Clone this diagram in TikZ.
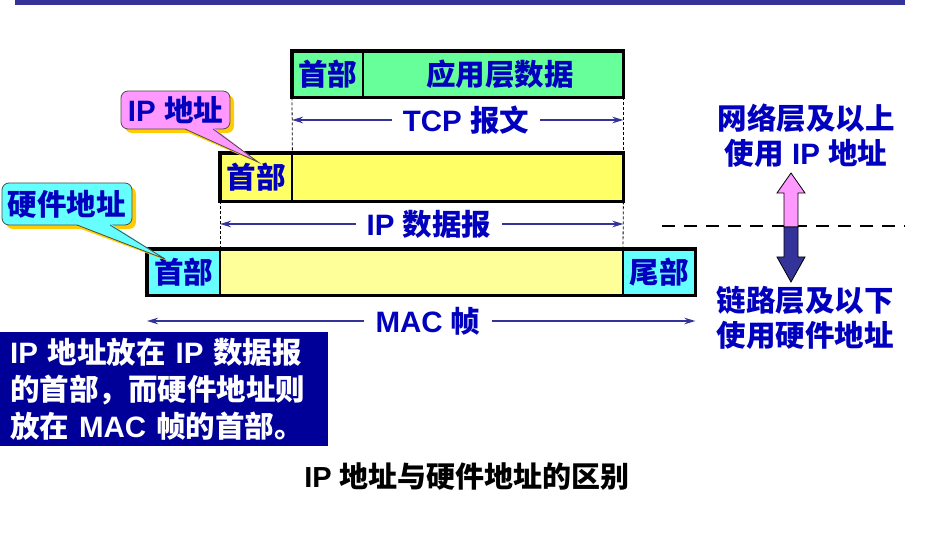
\documentclass[tikz,border=0pt]{standalone}
\usepackage{fontspec}
\setmainfont{Liberation Sans}
\newfontfamily\cjkf{Noto Sans CJK SC}
\usetikzlibrary{arrows.meta,shadows,calc}
\definecolor{bar}{RGB}{51,51,153}
\definecolor{txt}{RGB}{0,0,190}
\definecolor{grn}{RGB}{102,255,153}
\definecolor{ylw}{RGB}{255,255,102}
\definecolor{lylw}{RGB}{255,255,153}
\definecolor{cyn}{RGB}{102,255,255}
\definecolor{pnk}{RGB}{255,153,255}
\definecolor{gld}{RGB}{255,204,0}
\definecolor{navy}{RGB}{0,0,153}
\newcommand\zh[1]{{\cjkf #1}}
\begin{document}
\begin{tikzpicture}[x=1pt,y=-1pt,
 big/.style={font=\fontsize{29.5}{36}\selectfont\bfseries},
 seg/.style={big, text=txt, inner sep=0pt, minimum height=46pt, anchor=north west},
 frame/.style={line width=3.5pt},
 divider/.style={line width=2pt},
 ext/.style={line width=0.8pt, dash pattern=on 3pt off 2pt},
 dim/.style={draw=bar, line width=2.8pt, -{Stealth[length=11pt,width=6.5pt]}},
 dimlbl/.style={big, text=txt, inner xsep=11pt, inner ysep=0pt},
 callout/.style={big, text=txt, draw=black!70, line width=0.8pt, rounded corners=7pt, inner sep=0pt,
   general shadow={fill=gld, shadow xshift=4pt, shadow yshift=-4pt}},
 poutline/.style={draw=black!70, line width=0.8pt},
 side/.style={big, text=txt},
 bigarrow/.style={draw=black, line width=0.8pt}]
\useasboundingbox (0,0) rectangle (930,540);
\fill[bar] (15,0) rectangle (905,5);

% TCP segment
\node[seg, fill=grn, minimum width=71pt] (tcph) at (292,51) {\zh{首部}};
\node[seg, fill=grn, minimum width=260pt] (tcpd) at (363,51) {\hspace*{14pt}\zh{应用层数据}};
\draw[divider] (tcph.north east) -- (tcph.south east);
\draw[frame] (tcph.north west) rectangle (tcpd.south east);

% IP datagram
\node[seg, fill=ylw, minimum width=72pt, minimum height=48pt] (iph) at (220,153) {\zh{首部}};
\node[seg, fill=ylw, minimum width=331pt, minimum height=48pt] (ipd) at (292,153) {};
\draw[divider] (iph.north east) -- (iph.south east);
\draw[frame] (iph.north west) rectangle (ipd.south east);

% MAC frame
\node[seg, fill=cyn, minimum width=73pt] (mach) at (147,249) {\zh{首部}};
\node[seg, fill=lylw, minimum width=403pt] (macd) at (220,249) {};
\node[seg, fill=cyn, minimum width=72pt] (mact) at (623,249) {\zh{尾部}};
\draw[divider] (mach.north east) -- (mach.south east);
\draw[divider] (mact.north west) -- (mact.south west);
\draw[frame] (mach.north west) rectangle (mact.south east);

% extension lines
\draw[ext] (tcph.south west) -- (iph.north east);
\draw[ext] (tcpd.south east) -- (ipd.north east);
\draw[ext] (iph.south west) -- (macd.north west);
\draw[ext] (ipd.south east) -- (mact.north west);

% dimension lines
\node[dimlbl] (tcpl) at (466,120) {TCP \zh{报文}};
\draw[dim] (tcpl.west) -- (tcph.west |- tcpl);
\draw[dim] (tcpl.east) -- (tcpd.east |- tcpl);
\node[dimlbl] (ipl) at (429,224) {IP \zh{数据报}};
\draw[dim] (ipl.west) -- (iph.west |- ipl);
\draw[dim] (ipl.east) -- (ipd.east |- ipl);
\node[dimlbl] (macl) at (428,321) {MAC \zh{帧}};
\draw[dim] (macl.west) -- (mach.west |- macl);
\draw[dim] (macl.east) -- (mact.east |- macl);

% callout: IP address
\node[callout, fill=pnk, minimum width=109pt, minimum height=38pt] (ipc) at (175.5,110) {IP \zh{地址}};
\coordinate (ipt) at (258,162);
\fill[gld] (189,133) -- (217,133) -- ($(ipt)+(3,2)$) -- cycle;
\fill[pnk] (184,128) -- (214,128) -- (ipt) -- cycle;
\draw[poutline] (185,129) -- (ipt) -- (213,129);

% callout: hardware address
\node[callout, fill=cyn, minimum width=130pt, minimum height=42pt] (hwc) at (67,204) {\zh{硬件地址}};
\coordinate (hwt) at (165,259);
\fill[gld] (81,229) -- (114,229) -- ($(hwt)+(3,2)$) -- cycle;
\fill[cyn] (76,224) -- (111,224) -- (hwt) -- cycle;
\draw[poutline] (77,225) -- (hwt) -- (110,225);

% layer separator and arrows
\draw[black, line width=2.8pt, dash pattern=on 13pt off 9pt] (662,226) -- (905,226);
\draw[bigarrow, fill=pnk] (791,173) -- (805,193) -- (798,193) -- (798,227) -- (784,227) -- (784,193) -- (777,193) -- cycle;
\draw[bigarrow, fill=bar] (784,227) -- (798,227) -- (798,257) -- (805,257) -- (791,282) -- (777,257) -- (784,257) -- cycle;
\node[side] (up1) at (806,118) {\zh{网络层及以上}};
\node[side] (up2) at (806,153) {\zh{使用} IP \zh{地址}};
\node[side] (dn1) at (805,300) {\zh{链路层及以下}};
\node[side] (dn2) at (805,335) {\zh{使用硬件地址}};

% note box
\node[fill=navy, text=white, anchor=north west, minimum width=328pt, minimum height=114pt,
  text width=308pt, inner xsep=10pt, inner ysep=0pt, align=left,
  font=\fontsize{29.5}{37}\selectfont\bfseries] (note) at (0,332)
  {IP \zh{地址放在} IP \zh{数据报}\\ \zh{的首部，而硬件地址则}\\ \zh{放在} MAC \zh{帧的首部。}};

% caption
\node[font=\fontsize{29}{34}\selectfont\bfseries, text=black] (cap) at (467,477) {IP \zh{地址与硬件地址的区别}};
\end{tikzpicture}
\end{document}
